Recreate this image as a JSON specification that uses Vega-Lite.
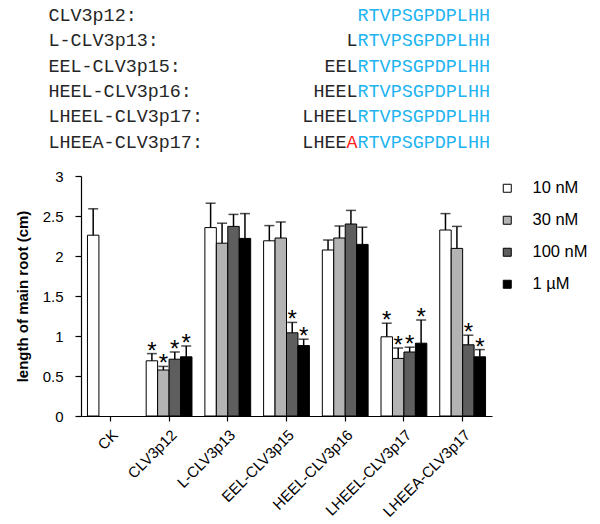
{
  "$schema": "https://vega.github.io/schema/vega-lite/v6.json",
  "padding": {"left": 15, "top": 0, "right": 0, "bottom": 0},
  "background": "white",
  "config": {
    "font": "Liberation Sans",
    "view": {"stroke": null},
    "axis": {"domainColor": "#000", "tickColor": "#000", "labelColor": "#000", "titleColor": "#000", "grid": false}
  },
  "spacing": 16,
  "bounds": "flush",
  "resolve": {"scale": {"x": "independent", "y": "independent", "color": "independent", "fill": "independent"}},
  "vconcat": [
    {
      "width": 411,
      "height": 160,
      "data": {"values": [
        {"row": 1, "col": 0, "txt": "CLV3p12:", "kind": "name"},
        {"row": 1, "col": 28, "txt": "RTVPSGPDPLHH", "kind": "core"},
        {"row": 2, "col": 0, "txt": "L-CLV3p13:", "kind": "name"},
        {"row": 2, "col": 27, "txt": "L", "kind": "prefix"},
        {"row": 2, "col": 28, "txt": "RTVPSGPDPLHH", "kind": "core"},
        {"row": 3, "col": 0, "txt": "EEL-CLV3p15:", "kind": "name"},
        {"row": 3, "col": 25, "txt": "EEL", "kind": "prefix"},
        {"row": 3, "col": 28, "txt": "RTVPSGPDPLHH", "kind": "core"},
        {"row": 4, "col": 0, "txt": "HEEL-CLV3p16:", "kind": "name"},
        {"row": 4, "col": 24, "txt": "HEEL", "kind": "prefix"},
        {"row": 4, "col": 28, "txt": "RTVPSGPDPLHH", "kind": "core"},
        {"row": 5, "col": 0, "txt": "LHEEL-CLV3p17:", "kind": "name"},
        {"row": 5, "col": 23, "txt": "LHEEL", "kind": "prefix"},
        {"row": 5, "col": 28, "txt": "RTVPSGPDPLHH", "kind": "core"},
        {"row": 6, "col": 0, "txt": "LHEEA-CLV3p17:", "kind": "name"},
        {"row": 6, "col": 23, "txt": "LHEE", "kind": "prefix"},
        {"row": 6, "col": 27, "txt": "A", "kind": "mut"},
        {"row": 6, "col": 28, "txt": "RTVPSGPDPLHH", "kind": "core"}
      ]},
      "mark": {"type": "text", "font": "Liberation Mono", "fontSize": 18.4, "align": "left", "baseline": "middle"},
      "encoding": {
        "x": {"field": "col", "type": "quantitative", "scale": {"domain": [2.95, 40.18], "nice": false, "zero": false}, "axis": null},
        "y": {"field": "row", "type": "quantitative", "scale": {"domain": [0.408, 6.724], "reverse": true, "nice": false, "zero": false}, "axis": null},
        "text": {"field": "txt"},
        "color": {"field": "kind", "type": "nominal", "scale": {"domain": ["name", "prefix", "mut", "core"], "range": ["#262626", "#262626", "#ff2020", "#22b4f0"]}, "legend": null}
      }
    },
    {
      "width": 411,
      "height": 240,
      "data": {"values": [
        {"group": "CK", "conc": "10 nM", "mean": 2.26, "upper": 2.59, "star": ""},
        {"group": "CLV3p12", "conc": "10 nM", "mean": 0.69, "upper": 0.78, "star": "*"},
        {"group": "CLV3p12", "conc": "30 nM", "mean": 0.575, "upper": 0.62, "star": "*"},
        {"group": "CLV3p12", "conc": "100 nM", "mean": 0.71, "upper": 0.80, "star": "*"},
        {"group": "CLV3p12", "conc": "1 µM", "mean": 0.74, "upper": 0.875, "star": "*"},
        {"group": "L-CLV3p13", "conc": "10 nM", "mean": 2.355, "upper": 2.66, "star": ""},
        {"group": "L-CLV3p13", "conc": "30 nM", "mean": 2.16, "upper": 2.41, "star": ""},
        {"group": "L-CLV3p13", "conc": "100 nM", "mean": 2.37, "upper": 2.52, "star": ""},
        {"group": "L-CLV3p13", "conc": "1 µM", "mean": 2.22, "upper": 2.53, "star": ""},
        {"group": "EEL-CLV3p15", "conc": "10 nM", "mean": 2.19, "upper": 2.38, "star": ""},
        {"group": "EEL-CLV3p15", "conc": "30 nM", "mean": 2.225, "upper": 2.425, "star": ""},
        {"group": "EEL-CLV3p15", "conc": "100 nM", "mean": 1.04, "upper": 1.17, "star": "*"},
        {"group": "EEL-CLV3p15", "conc": "1 µM", "mean": 0.88, "upper": 0.96, "star": "*"},
        {"group": "HEEL-CLV3p16", "conc": "10 nM", "mean": 2.075, "upper": 2.2, "star": ""},
        {"group": "HEEL-CLV3p16", "conc": "30 nM", "mean": 2.225, "upper": 2.375, "star": ""},
        {"group": "HEEL-CLV3p16", "conc": "100 nM", "mean": 2.40, "upper": 2.57, "star": ""},
        {"group": "HEEL-CLV3p16", "conc": "1 µM", "mean": 2.145, "upper": 2.36, "star": ""},
        {"group": "LHEEL-CLV3p17", "conc": "10 nM", "mean": 0.99, "upper": 1.16, "star": "*"},
        {"group": "LHEEL-CLV3p17", "conc": "30 nM", "mean": 0.72, "upper": 0.85, "star": "*"},
        {"group": "LHEEL-CLV3p17", "conc": "100 nM", "mean": 0.80, "upper": 0.86, "star": "*"},
        {"group": "LHEEL-CLV3p17", "conc": "1 µM", "mean": 0.91, "upper": 1.20, "star": "*"},
        {"group": "LHEEA-CLV3p17", "conc": "10 nM", "mean": 2.325, "upper": 2.53, "star": ""},
        {"group": "LHEEA-CLV3p17", "conc": "30 nM", "mean": 2.095, "upper": 2.37, "star": ""},
        {"group": "LHEEA-CLV3p17", "conc": "100 nM", "mean": 0.89, "upper": 1.01, "star": "*"},
        {"group": "LHEEA-CLV3p17", "conc": "1 µM", "mean": 0.74, "upper": 0.83, "star": "*"}
      ]},
      "encoding": {
        "x": {
          "field": "group", "type": "nominal",
          "sort": ["CK", "CLV3p12", "L-CLV3p13", "EEL-CLV3p15", "HEEL-CLV3p16", "LHEEL-CLV3p17", "LHEEA-CLV3p17"],
          "scale": {"paddingInner": 0.22, "paddingOuter": 0.11},
          "axis": {"title": null, "labelAngle": -45, "labelFontSize": 15, "labelFont": "Liberation Sans", "tickSize": 5, "labelPadding": 6, "domainWidth": 1.2, "tickWidth": 1.2}
        },
        "xOffset": {"field": "conc", "type": "nominal", "sort": ["10 nM", "30 nM", "100 nM", "1 µM"]}
      },
      "layer": [
        {
          "mark": {"type": "bar", "stroke": "#000", "strokeWidth": 1},
          "encoding": {
            "y": {"field": "mean", "type": "quantitative", "scale": {"domain": [0, 3], "nice": false},
              "axis": {"title": "length of main root (cm)", "titleFontSize": 15, "titleFontWeight": "bold", "titlePadding": 12,
                "values": [0, 0.5, 1, 1.5, 2, 2.5, 3], "format": "~g", "labelOverlap": false, "labelFontSize": 15, "labelPadding": 12, "tickSize": 6, "domainWidth": 1.2, "tickWidth": 1.2}},
            "fill": {"field": "conc", "type": "nominal", "sort": ["10 nM", "30 nM", "100 nM", "1 µM"],
              "scale": {"domain": ["10 nM", "30 nM", "100 nM", "1 µM"], "range": ["#ffffff", "#b3b3b3", "#5e5e5e", "#000000"]},
              "legend": {"title": null, "orient": "none", "legendX": 418, "legendY": 4, "padding": 0,
                "symbolType": "square", "symbolSize": 64, "symbolStrokeColor": "#000", "symbolStrokeWidth": 1,
                "labelFontSize": 16.5, "labelFont": "Liberation Sans", "labelOffset": 17, "rowPadding": 15, "labelColor": "#000"}}
          }
        },
        {
          "mark": {"type": "rule", "color": "#000", "strokeWidth": 1.5},
          "encoding": {
            "y": {"field": "mean", "type": "quantitative", "scale": {"domain": [0, 3], "nice": false},
              "axis": {"title": "length of main root (cm)", "titleFontSize": 15, "titleFontWeight": "bold", "titlePadding": 12,
                "values": [0, 0.5, 1, 1.5, 2, 2.5, 3], "format": "~g", "labelOverlap": false, "labelFontSize": 15, "labelPadding": 12, "tickSize": 6, "domainWidth": 1.2, "tickWidth": 1.2}},
            "y2": {"field": "upper"}
          }
        },
        {
          "mark": {"type": "tick", "color": "#000", "size": 10, "thickness": 1.5},
          "encoding": {
            "y": {"field": "upper", "type": "quantitative", "scale": {"domain": [0, 3], "nice": false},
              "axis": {"title": "length of main root (cm)", "titleFontSize": 15, "titleFontWeight": "bold", "titlePadding": 12,
                "values": [0, 0.5, 1, 1.5, 2, 2.5, 3], "format": "~g", "labelOverlap": false, "labelFontSize": 15, "labelPadding": 12, "tickSize": 6, "domainWidth": 1.2, "tickWidth": 1.2}}
          }
        },
        {
          "mark": {"type": "text", "fontSize": 24, "baseline": "alphabetic", "dy": 5, "color": "#000", "font": "Liberation Sans"},
          "encoding": {
            "y": {"field": "upper", "type": "quantitative", "scale": {"domain": [0, 3], "nice": false},
              "axis": {"title": "length of main root (cm)", "titleFontSize": 15, "titleFontWeight": "bold", "titlePadding": 12,
                "values": [0, 0.5, 1, 1.5, 2, 2.5, 3], "format": "~g", "labelOverlap": false, "labelFontSize": 15, "labelPadding": 12, "tickSize": 6, "domainWidth": 1.2, "tickWidth": 1.2}},
            "text": {"field": "star"}
          }
        }
      ]
    }
  ]
}
